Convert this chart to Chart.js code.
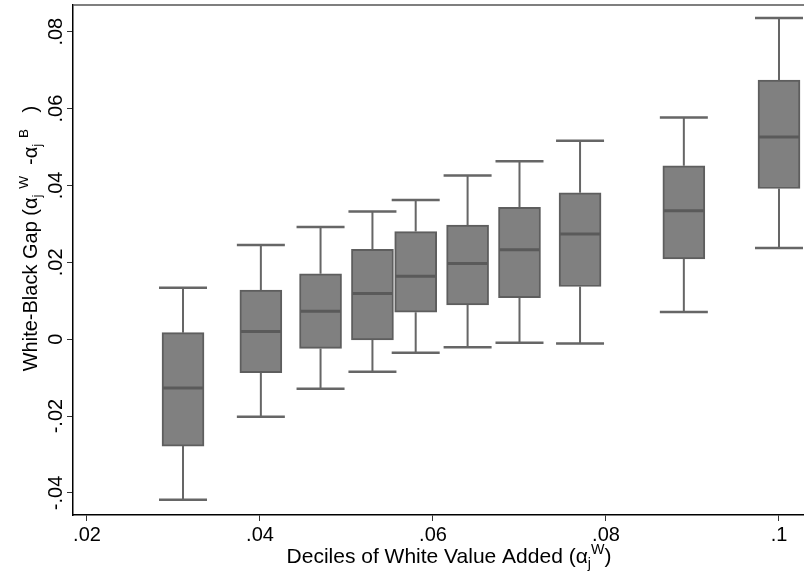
<!DOCTYPE html>
<html>
<head>
<meta charset="utf-8">
<script src="https://cdn.jsdelivr.net/npm/chart.js@4/dist/chart.umd.min.js"></script>
<style>
  html, body { margin: 0; padding: 0; background: #fff; }
  canvas { display: block; }
</style>
</head>
<body>
<canvas id="gapChart" width="804" height="573"></canvas>
<script>
// decile positions (white value added) and box plot stats of the white-black gap
const decileX = [0.0311, 0.0401, 0.0470, 0.0530, 0.0580, 0.0640, 0.0700, 0.0770, 0.0890, 0.1000];
const whiskerHigh = [0.0134, 0.0245, 0.0292, 0.0332, 0.0362, 0.0426, 0.0463, 0.0516, 0.0577, 0.0836];
const boxHigh = [0.0017, 0.0128, 0.0170, 0.0234, 0.0280, 0.0297, 0.0343, 0.0381, 0.0451, 0.0674];
const medians = [-0.0127, 0.0020, 0.0073, 0.0119, 0.0164, 0.0197, 0.0233, 0.0274, 0.0334, 0.0526];
const boxLow = [-0.0278, -0.0087, -0.0024, -0.0002, 0.0070, 0.0089, 0.0108, 0.0137, 0.0209, 0.0392];
const whiskerLow = [-0.0418, -0.0202, -0.0129, -0.0085, -0.0035, -0.0021, -0.0009, -0.0011, 0.0071, 0.0237];

const xTickValues = [0.02, 0.04, 0.06, 0.08, 0.1];
const xTickLabels = ['.02', '.04', '.06', '.08', '.1'];
const yTickValues = [-0.04, -0.02, 0, 0.02, 0.04, 0.06, 0.08];
const yTickLabels = ['-.04', '-.02', '0', '.02', '.04', '.06', '.08'];

const FONT = '"Liberation Sans", Arial, sans-serif';

// draws text with Stata style sub/superscripts, one after the other
function richText(ctx, parts, size, draw) {
  let x = 0;
  parts.forEach(p => {
    const s = p.sub || p.sup ? size * 0.68 : size;
    ctx.font = s + 'px ' + FONT;
    const dy = p.sub ? size * 0.22 : (p.sup ? -size * 0.45 : 0);
    if (draw) ctx.fillText(p.t, x, dy);
    x += ctx.measureText(p.t).width;
  });
  return x;
}

const xTitle = [{t: 'Deciles of White Value Added ('}, {t: 'α'}, {t: 'j', sub: true}, {t: 'W', sup: true}, {t: ')'}];
const yTitle = [{t: 'White-Black Gap ('}, {t: 'α'}, {t: 'j', sub: true}, {t: ' '}, {t: 'W', sup: true}, {t: '  -'},
                {t: 'α'}, {t: 'j', sub: true}, {t: ' '}, {t: 'B', sup: true}, {t: '   )'}];

const boxPlotExtras = {
  id: 'boxPlotExtras',
  afterDatasetsDraw(chart) {
    const ctx = chart.ctx, x = chart.scales.x, y = chart.scales.y;
    const area = chart.chartArea;
    ctx.save();
    ctx.lineCap = 'butt';
    decileX.forEach((v, i) => {
      const px = x.getPixelForValue(v);
      // whiskers
      ctx.strokeStyle = '#666666';
      ctx.lineWidth = 2;
      ctx.beginPath();
      ctx.moveTo(px, y.getPixelForValue(boxHigh[i]));
      ctx.lineTo(px, y.getPixelForValue(whiskerHigh[i]));
      ctx.moveTo(px, y.getPixelForValue(boxLow[i]));
      ctx.lineTo(px, y.getPixelForValue(whiskerLow[i]));
      ctx.stroke();
      // caps
      ctx.lineWidth = 2.5;
      ctx.beginPath();
      ctx.moveTo(px - 24, y.getPixelForValue(whiskerHigh[i]));
      ctx.lineTo(px + 24, y.getPixelForValue(whiskerHigh[i]));
      ctx.moveTo(px - 24, y.getPixelForValue(whiskerLow[i]));
      ctx.lineTo(px + 24, y.getPixelForValue(whiskerLow[i]));
      ctx.stroke();
      // median
      ctx.strokeStyle = '#5a5a5a';
      ctx.lineWidth = 3;
      ctx.beginPath();
      ctx.moveTo(px - 20, y.getPixelForValue(medians[i]));
      ctx.lineTo(px + 20, y.getPixelForValue(medians[i]));
      ctx.stroke();
    });

    // top border of the plot region
    ctx.strokeStyle = '#555555';
    ctx.lineWidth = 1.5;
    ctx.beginPath();
    ctx.moveTo(area.left, area.top);
    ctx.lineTo(area.right, area.top);
    ctx.stroke();

    // y tick labels, rotated
    ctx.fillStyle = '#000';
    ctx.font = '20px ' + FONT;
    ctx.textAlign = 'center';
    ctx.textBaseline = 'alphabetic';
    yTickValues.forEach((v, i) => {
      ctx.save();
      ctx.translate(area.left - 11, y.getPixelForValue(v));
      ctx.rotate(-Math.PI / 2);
      ctx.fillText(yTickLabels[i], 0, 0);
      ctx.restore();
    });

    // axis titles
    ctx.textAlign = 'left';
    const xw = richText(ctx, xTitle, 21, false);
    ctx.save();
    ctx.translate(449 - xw / 2, 563);
    richText(ctx, xTitle, 21, true);
    ctx.restore();

    const yw = richText(ctx, yTitle, 20, false);
    ctx.save();
    ctx.translate(37, 238.5 + yw / 2);
    ctx.rotate(-Math.PI / 2);
    richText(ctx, yTitle, 20, true);
    ctx.restore();
    ctx.restore();
  }
};

new Chart(document.getElementById('gapChart').getContext('2d'), {
  type: 'bar',
  data: {
    datasets: [{
      label: 'IQR',
      data: decileX.map((v, i) => ({x: v, y: [boxLow[i], boxHigh[i]]})),
      backgroundColor: '#808080',
      borderColor: '#5e5e5e',
      borderWidth: 2,
      borderSkipped: false,
      barThickness: 42
    }]
  },
  options: {
    responsive: false,
    animation: false,
    devicePixelRatio: 1,
    layout: { padding: { top: 5, right: 0, left: 0, bottom: 0 } },
    plugins: { legend: { display: false }, tooltip: { enabled: false } },
    scales: {
      x: {
        type: 'linear',
        offset: false,
        min: 0.018382,
        max: 0.102891,
        afterBuildTicks: s => { s.ticks = xTickValues.map(v => ({value: v})); },
        afterFit: s => { s.height = 58; },
        grid: { offset: false, drawOnChartArea: false, drawTicks: true, tickLength: 6, color: '#333', lineWidth: 1 },
        border: { display: true, color: '#000', width: 1.5 },
        ticks: {
          color: '#000',
          font: { family: FONT, size: 20 },
          padding: 2,
          maxRotation: 0,
          autoSkip: false,
          callback: (val, idx) => xTickLabels[idx]
        }
      },
      y: {
        type: 'linear',
        min: -0.04574,
        max: 0.08695,
        afterBuildTicks: s => { s.ticks = yTickValues.map(v => ({value: v})); },
        afterFit: s => { s.width = 73; },
        grid: { drawOnChartArea: false, drawTicks: true, tickLength: 6, color: '#333', lineWidth: 1 },
        border: { display: true, color: '#000', width: 1.5 },
        ticks: { display: false }
      }
    }
  },
  plugins: [boxPlotExtras]
});
</script>
</body>
</html>
